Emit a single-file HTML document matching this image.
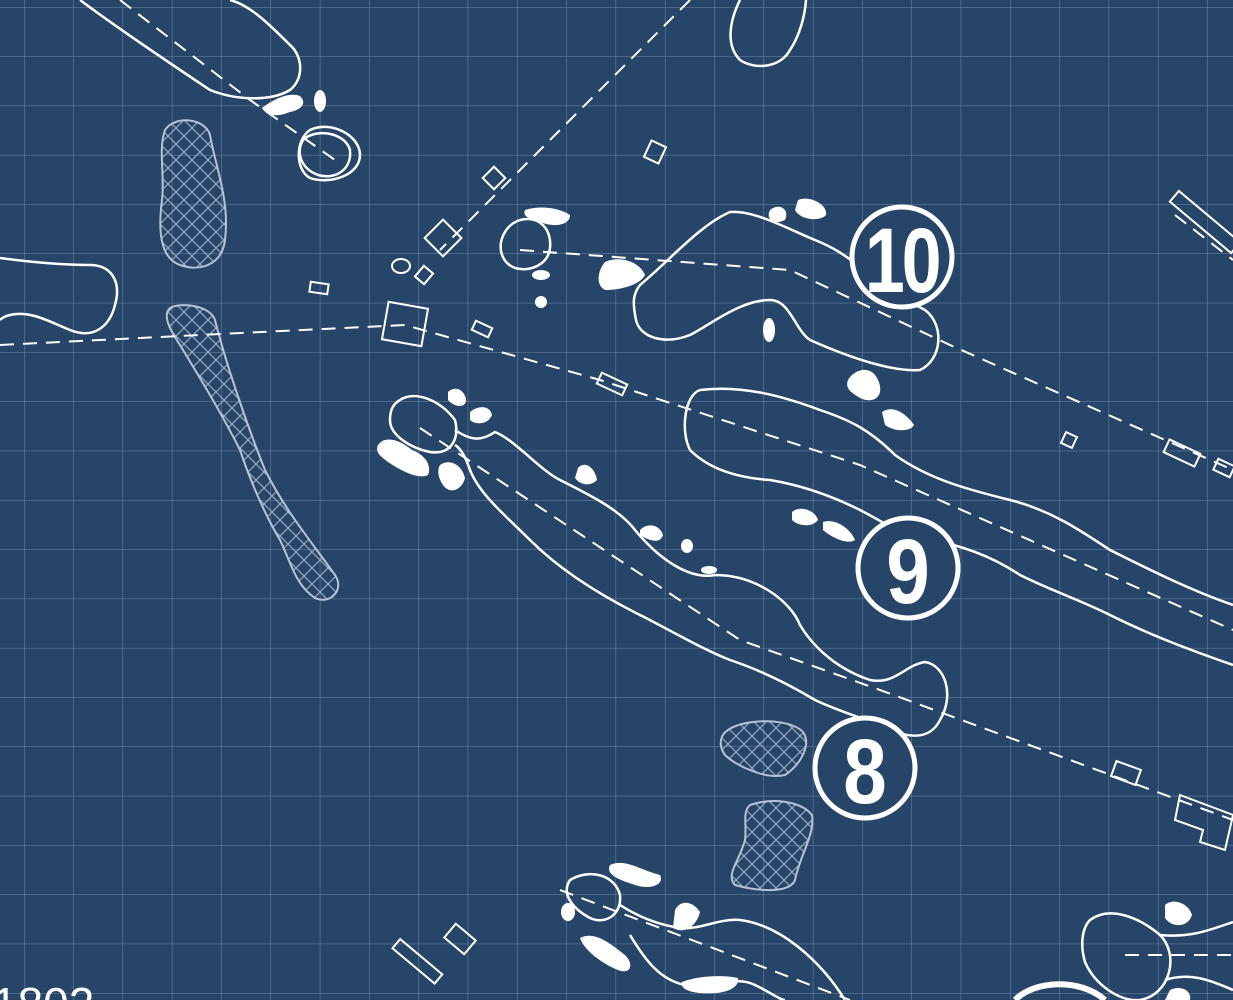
<!DOCTYPE html>
<html><head><meta charset="utf-8"><style>
html,body{margin:0;padding:0;background:#274568;}
svg{display:block}
</style></head><body>
<svg width="1233" height="1000" viewBox="0 0 1233 1000" xmlns="http://www.w3.org/2000/svg">
<defs>
<pattern id="grid" x="24" y="7" width="49.3" height="49.3" patternUnits="userSpaceOnUse">
<path d="M0 0V49.3M0 0H49.3" stroke="#7189a9" stroke-width="1" fill="none"/>
</pattern>
<pattern id="hatch" width="16" height="16" patternUnits="userSpaceOnUse">
<path d="M0 0L16 16M16 0L0 16" stroke="#a7b6cb" stroke-width="1" fill="none"/>
</pattern>
</defs>
<rect width="1233" height="1000" fill="#274568"/>
<rect width="1233" height="1000" fill="url(#grid)"/>

<!-- hazards (hatched) -->
<g fill="url(#hatch)" stroke="#b8c4d5" stroke-width="2">
<path d="M165 130 C175 115 205 118 210 135 C215 165 230 200 225 240 C222 265 200 272 180 265 C160 258 158 230 162 200 C165 175 158 150 165 130Z"/>
<path d="M170 308 C180 302 210 305 215 320 C225 360 245 420 265 470 C285 510 310 540 335 575 C345 590 330 605 315 598 C295 585 290 560 280 540 C265 515 250 480 240 450 C220 410 195 370 180 345 C170 330 162 315 170 308Z"/>
<path d="M728 730 C745 718 790 718 803 732 C812 745 800 765 785 775 C765 780 735 765 725 755 C718 745 720 735 728 730Z"/>
<path d="M750 805 C770 798 800 800 812 815 C815 835 800 855 795 880 C790 893 760 892 735 885 C725 875 740 860 745 840 C747 825 742 812 750 805Z"/>
</g>

<!-- fairways / greens outlines -->
<g fill="none" stroke="#fff" stroke-width="2.5" stroke-linejoin="round">
<path d="M80 0 C120 30 180 70 210 90 C235 100 270 102 290 90 C305 78 302 55 290 45 C270 25 250 5 230 0"/>
<path d="M310 130 C330 120 360 135 360 155 C360 175 330 185 310 178 C295 170 295 140 310 130Z"/>
<path d="M303 140 C315 128 345 132 350 150 C352 170 335 180 318 175 C300 168 296 152 303 140Z"/>
<path d="M740 0 C730 20 725 45 740 60 C755 70 780 68 790 50 C800 35 805 15 806 0"/>
<path d="M0 258 C30 262 60 265 90 265 C110 265 122 280 115 305 C110 325 95 340 70 330 C50 322 30 310 10 315 C5 316 2 318 0 320"/>
<path d="M520 220 C540 215 552 230 550 248 C548 265 530 272 515 268 C500 262 497 245 505 232 C509 225 514 222 520 220Z"/>
<path d="M640 285 C670 260 700 225 730 212 C755 210 790 230 815 240 C840 250 850 260 865 270 C885 285 905 300 925 310 C945 325 942 360 920 370 C895 372 855 360 810 340 C795 330 790 300 770 300 C740 300 710 325 690 335 C665 345 640 338 636 320 C633 305 632 295 640 285Z"/>
<path d="M400 400 C415 390 440 400 455 420 C460 440 450 455 430 452 C410 448 390 435 390 420 C390 410 393 404 400 400Z"/>
<path d="M455 430 C470 440 480 442 495 432 C515 440 540 470 560 480 C590 495 620 510 635 530 C660 560 690 580 715 575 C755 575 790 600 800 625 C815 650 840 670 870 680 C895 685 905 665 925 662 C945 665 955 695 940 720 C930 740 910 738 890 730 C870 720 840 712 815 700 C790 685 760 670 730 660 C700 648 670 630 640 615 C600 595 560 570 530 540 C505 515 480 495 470 470 C465 455 460 448 455 445"/>
<path d="M700 390 C740 385 780 395 820 410 C850 420 870 430 895 455 C930 480 970 490 1010 500 C1050 510 1080 530 1110 550 C1150 570 1190 590 1233 605 M1233 665 C1190 650 1150 635 1110 615 C1080 600 1050 590 1020 575 C990 555 960 545 930 540 C900 535 880 520 860 510 C830 495 800 485 770 480 C740 478 710 470 690 450 C680 430 685 395 700 390"/>
<path d="M570 880 C590 868 615 875 620 895 C622 915 605 925 590 918 C575 910 560 895 570 880Z"/>
<path d="M620 905 C640 918 660 925 680 928 C700 930 720 918 740 920 C780 925 820 960 845 1000 M630 935 C645 960 660 980 685 985 C710 988 735 975 755 985 C770 992 780 1000 785 1000"/>
<path d="M1090 920 C1110 905 1140 918 1160 935 C1180 955 1170 995 1140 1000 C1120 1002 1095 985 1085 962 C1080 945 1082 928 1090 920Z"/>
<path d="M1160 935 C1190 938 1210 930 1233 922 M1165 980 C1190 972 1210 980 1233 990"/>
<path d="M1015 1000 C1035 980 1080 978 1105 1000" stroke-width="6"/>
</g>

<!-- dashed centerlines -->
<g fill="none" stroke="#fff" stroke-width="2" stroke-dasharray="14,9">
<path d="M120 0 L250 100 L335 160"/>
<path d="M690 0 L440 250"/>
<path d="M0 345 L200 335 L405 325 L600 380 L860 465 L1233 630"/>
<path d="M520 250 L790 270 L950 345 L1233 470"/>
<path d="M420 428 L740 640 L880 690 L1233 820"/>
<path d="M560 890 L850 1000"/>
<path d="M1125 955 L1233 955"/>
<path d="M1175 215 L1233 260"/>
</g>

<!-- tee boxes -->
<g fill="none" stroke="#fff" stroke-width="2">
<rect x="430" y="225" width="26" height="26" transform="rotate(45 443 238)"/>
<rect x="486" y="170" width="16" height="16" transform="rotate(45 494 178)"/>
<rect x="647" y="143" width="16" height="18" transform="rotate(25 655 152)"/>
<rect x="385" y="305" width="40" height="38" transform="rotate(10 405 324)"/>
<rect x="418" y="268" width="12" height="14" transform="rotate(40 424 275)"/>
<ellipse cx="401" cy="266" rx="9" ry="7"/>
<rect x="310" y="283" width="18" height="10" transform="rotate(8 319 288)"/>
<rect x="473" y="324" width="18" height="10" transform="rotate(25 482 329)"/>
<rect x="598" y="378" width="28" height="12" transform="rotate(25 612 384)"/>
<rect x="1063" y="434" width="12" height="12" transform="rotate(25 1069 440)"/>
<rect x="1165" y="446" width="34" height="14" transform="rotate(25 1182 453)"/>
<rect x="1215" y="462" width="18" height="12" transform="rotate(25 1224 468)"/>
<rect x="1113" y="765" width="26" height="16" transform="rotate(20 1126 773)"/>
<path d="M1180 795 L1233 815 L1225 850 L1200 842 L1203 830 L1175 820Z"/>
<rect x="1165" y="215" width="80" height="14" transform="rotate(40 1205 222)"/>
<rect x="447" y="930" width="26" height="18" transform="rotate(40 460 939)"/>
<rect x="390" y="955" width="55" height="12" transform="rotate(40 417 961)"/>
</g>

<!-- bunkers (solid white) -->
<g fill="#fff">
<path d="M262 108 C275 98 290 92 300 96 C308 104 300 110 290 112 C280 116 268 118 262 108Z"/>
<ellipse cx="320" cy="101" rx="6" ry="11"/>
<path d="M525 210 C540 205 560 208 570 215 C570 225 555 228 540 222 C530 220 522 216 525 210Z"/>
<ellipse cx="541" cy="275" rx="9" ry="5"/>
<ellipse cx="541" cy="302" rx="6" ry="6"/>
<path d="M605 262 C620 255 640 262 645 275 C640 285 620 290 605 290 C595 285 598 270 605 262Z"/>
<path d="M770 210 C780 202 790 210 785 220 C775 225 765 220 770 210Z"/>
<path d="M798 200 C810 195 828 205 826 215 C820 222 800 220 795 210Z"/>
<ellipse cx="769" cy="330" rx="6" ry="12"/>
<path d="M848 380 C855 368 872 365 878 380 C885 395 875 405 860 398 C850 392 845 388 848 380Z"/>
<path d="M882 412 C892 405 905 412 914 425 C910 432 895 432 885 425Z"/>
<path d="M448 392 C455 385 465 390 466 400 C466 408 455 408 448 400Z"/>
<path d="M470 412 C478 405 490 405 492 415 C488 425 475 425 470 420Z"/>
<path d="M378 445 C385 435 400 440 412 450 C425 455 432 465 428 475 C418 480 400 470 388 462 C380 456 375 452 378 445Z"/>
<path d="M440 465 C450 458 462 465 465 478 C462 490 450 495 443 485 C438 478 437 470 440 465Z"/>
<path d="M578 468 C585 460 595 468 597 480 C590 487 580 485 575 478Z"/>
<path d="M640 530 C648 522 660 525 663 535 C660 545 648 540 640 535Z"/>
<ellipse cx="687" cy="546" rx="6" ry="7"/>
<ellipse cx="709" cy="570" rx="8" ry="4"/>
<path d="M792 512 C800 505 815 510 818 520 C812 528 798 526 792 520Z"/>
<path d="M823 522 C835 518 850 528 855 540 C848 545 832 538 823 530Z"/>
<path d="M610 865 C625 858 640 870 660 875 C665 885 650 890 635 885 C620 880 605 875 610 865Z"/>
<path d="M675 910 C680 900 692 900 700 912 C697 925 685 935 673 928Z"/>
<ellipse cx="568" cy="912" rx="7" ry="9"/>
<path d="M580 938 C595 930 612 945 625 955 C635 965 630 975 618 970 C605 965 585 952 580 938Z"/>
<path d="M682 982 C700 975 725 975 738 978 C740 990 720 995 700 993 C688 992 680 988 682 982Z"/>
<path d="M1165 905 C1172 898 1188 902 1192 915 C1188 928 1172 928 1165 918Z"/>
<path d="M1170 990 C1180 985 1192 990 1190 1000 L1165 1000Z"/>
</g>

<!-- hole number markers -->
<g font-family="Liberation Sans Narrow, Liberation Sans, sans-serif" font-weight="bold" fill="#fff" text-anchor="middle">
<circle cx="902" cy="257" r="50" fill="#274568" stroke="#fff" stroke-width="5"/>
<text x="902" y="292" font-size="92" transform="scale(0.78 1) translate(254 0)" letter-spacing="-4">10</text>
<circle cx="908" cy="568" r="50" fill="#274568" stroke="#fff" stroke-width="5"/>
<text x="908" y="603" font-size="92" transform="translate(908 0) scale(0.85 1) translate(-908 0)">9</text>
<circle cx="865" cy="768" r="50" fill="#274568" stroke="#fff" stroke-width="5"/>
<text x="865" y="803" font-size="92" transform="translate(865 0) scale(0.85 1) translate(-865 0)">8</text>
</g>
<text x="-8" y="1020" font-family="Liberation Sans, sans-serif" font-size="46" fill="#fff">1802</text>
</svg>
</body></html>
